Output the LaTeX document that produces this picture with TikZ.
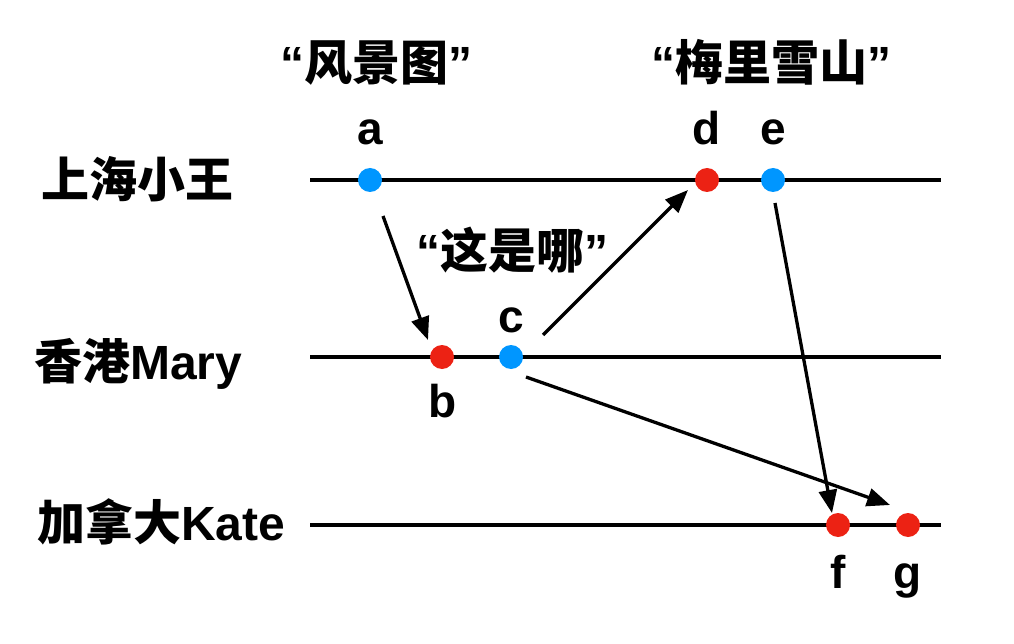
\documentclass[tikz,border=0pt]{standalone}
\usepackage{fontspec}
\setmainfont{Liberation Sans}
\newfontfamily\cjk{Noto Sans CJK SC}
\usetikzlibrary{arrows.meta}
\definecolor{dotblue}{RGB}{0,150,255}
\definecolor{dotred}{RGB}{236,34,20}
\tikzset{
  timeline/.style={line width=4pt},
  evblue/.style={circle,fill=dotblue,inner sep=0pt,minimum size=24pt},
  evred/.style={circle,fill=dotred,inner sep=0pt,minimum size=24pt},
  arr/.style={line width=3.3pt,-{Triangle[length=23pt,width=18pt]}},
  lbl/.style={font=\fontsize{46}{50}\selectfont\bfseries,inner sep=0pt,anchor=base},
  qlbl/.style={font=\fontsize{48}{52}\selectfont\bfseries,inner sep=0pt,anchor=base},
  rowlbl/.style={font=\fontsize{48}{52}\selectfont\bfseries,inner sep=0pt,anchor=base west},
}
\begin{document}
\begin{tikzpicture}[x=1pt,y=-1pt]
\useasboundingbox (0,0) rectangle (1014,644);
% timelines
\coordinate (l1s) at (310,180); \coordinate (l1e) at (941,180);
\coordinate (l2s) at (310,357); \coordinate (l2e) at (941,357);
\coordinate (l3s) at (310,525); \coordinate (l3e) at (941,525);
\draw[timeline] (l1s) -- (l1e);
\draw[timeline] (l2s) -- (l2e);
\draw[timeline] (l3s) -- (l3e);
% row labels
\node[rowlbl] (r1) at (41,198) {{\cjk\bfseries 上海小王}};
\node[rowlbl] (r2) at (34,379) {{\cjk\bfseries 香港}Mary};
\node[rowlbl] (r3) at (37,540) {{\cjk\bfseries 加拿大}Kate};
% events
\node[evblue] (a) at (370,180) {};
\node[evred]  (d) at (707,180) {};
\node[evblue] (e) at (773,180) {};
\node[evred]  (b) at (442,357) {};
\node[evblue] (c) at (511,357) {};
\node[evred]  (f) at (838,525) {};
\node[evred]  (g) at (908,525) {};
% event letters
\node[lbl] (la) at (370,145) {a};
\node[lbl] (ld) at (707,145) {d};
\node[lbl] (le) at (773,145) {e};
\node[lbl] (lc) at (511,332) {c};
\node[lbl] (lb) at (443,417) {b};
\node[lbl] (lf) at (838,588) {f};
\node[lbl] (lg) at (908,588) {g};
% quoted messages
\node[qlbl] (q1) at (376,81) {“{\cjk\bfseries 风景图}”};
\node[qlbl] (q2) at (771,81) {“{\cjk\bfseries 梅里雪山}”};
\node[qlbl] (q3) at (512,269) {“{\cjk\bfseries 这是哪}”};
% messages
\draw[arr] ([shift={(13,36)}]a.center) -- ([shift={(-14,-17)}]b.center);
\draw[arr] ([shift={(32,-22)}]c.center) -- ([shift={(-19,10)}]d.center);
\draw[arr] ([shift={(2,23)}]e.center) -- ([shift={(-6,-12)}]f.center);
\draw[arr] ([shift={(15,20)}]c.center) -- ([shift={(-18,-20)}]g.center);
\end{tikzpicture}
\end{document}
